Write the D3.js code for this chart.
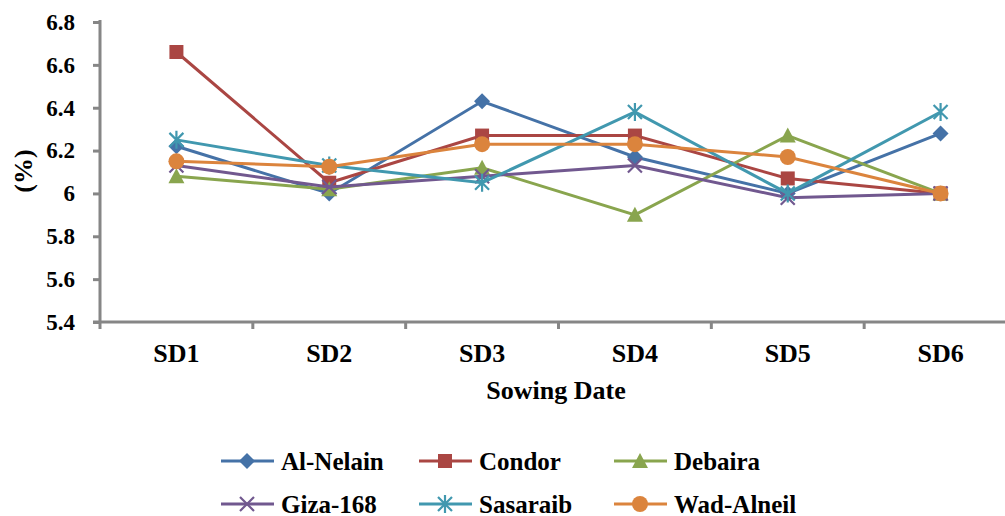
<!DOCTYPE html>
<html>
<head>
  <script src="https://d3js.org/d3.v7.min.js"></script>
</head>
<body style="margin:0">
  <svg id="chart" width="1005" height="516"></svg>
  <script>
    // data
    const dates = ['SD1', 'SD2', 'SD3', 'SD4', 'SD5', 'SD6'];
    const varieties = ['Al-Nelain', 'Condor', 'Debaira', 'Giza-168', 'Sasaraib', 'Wad-Alneil'];
    const alNelain = [6.22, 6.00, 6.43, 6.17, 6.00, 6.28];
    const condor = [6.66, 6.05, 6.27, 6.27, 6.07, 6.00];
    const debaira = [6.08, 6.02, 6.12, 5.90, 6.27, 6.00];
    const giza168 = [6.13, 6.03, 6.08, 6.13, 5.98, 6.00];
    const sasaraib = [6.25, 6.13, 6.05, 6.38, 6.00, 6.38];
    const wadAlneil = [6.15, 6.125, 6.23, 6.23, 6.17, 6.00];
    const yTicks = [5.4, 5.6, 5.8, 6, 6.2, 6.4, 6.6, 6.8];

    const seriesValues = [alNelain, condor, debaira, giza168, sasaraib, wadAlneil];
    const colors = ['#4572A7', '#AA4643', '#89A54E', '#71588F', '#4198AF', '#DB843D'];
    const symbols = ['diamond', 'square', 'triangle', 'x', 'star', 'circle'];
    const font = 'Liberation Serif';

    const svg = d3.select('svg#chart');
    const margins = { top: 22, left: 100 };
    const plotRight = 1017, plotBottom = 322;

    const x = d3.scaleBand().domain(dates).range([margins.left, plotRight]);
    const y = d3.scaleLinear().domain([5.4, 6.8]).range([plotBottom, margins.top]);
    const axisColor = '#868686';

    // y axis
    const yAxis = svg.append('g')
      .attr('transform', `translate(${margins.left},0)`)
      .call(d3.axisLeft(y).tickValues(yTicks).tickSize(7).tickPadding(18)
        .tickFormat(d => d === 6 ? '6' : d3.format('.1f')(d)));
    yAxis.select('.domain').attr('stroke', axisColor).attr('stroke-width', 3)
      .attr('d', `M0,${margins.top - 2}V${plotBottom}`);
    yAxis.selectAll('.tick line').attr('stroke', axisColor).attr('stroke-width', 3);
    yAxis.selectAll('.tick text')
      .attr('font-family', font).attr('font-weight', 'bold').attr('font-size', 23)
      .attr('fill', '#000');

    // x axis
    const xAxis = svg.append('g')
      .attr('transform', `translate(0,${plotBottom})`)
      .call(d3.axisBottom(x).tickSize(0).tickPadding(22));
    xAxis.select('.domain').attr('stroke', axisColor).attr('stroke-width', 3)
      .attr('d', `M${margins.left - 7},0H${plotRight}`);
    xAxis.selectAll('.tick text')
      .attr('font-family', font).attr('font-weight', 'bold').attr('font-size', 26)
      .attr('fill', '#000');
    xAxis.selectAll('.sep').data(dates.concat(['end']))
      .enter().append('line')
      .attr('x1', (d, i) => margins.left + i * x.bandwidth())
      .attr('x2', (d, i) => margins.left + i * x.bandwidth())
      .attr('y1', 0).attr('y2', 7)
      .attr('stroke', axisColor).attr('stroke-width', 3);

    svg.append('text')
      .attr('x', 556).attr('y', 399)
      .attr('text-anchor', 'middle')
      .attr('font-family', font).attr('font-weight', 'bold').attr('font-size', 26)
      .text('Sowing Date');

    svg.append('text')
      .attr('transform', 'translate(32,171) rotate(-90)')
      .attr('text-anchor', 'middle')
      .attr('font-family', font).attr('font-weight', 'bold').attr('font-size', 26)
      .text('(%)');

    function drawMarker(g, kind, color, cx, cy) {
      if (kind === 'diamond') {
        g.append('path').attr('d', `M${cx},${cy - 8}L${cx + 8},${cy}L${cx},${cy + 8}L${cx - 8},${cy}Z`).attr('fill', color);
      } else if (kind === 'square') {
        g.append('rect').attr('x', cx - 7).attr('y', cy - 7).attr('width', 14).attr('height', 14).attr('fill', color);
      } else if (kind === 'triangle') {
        g.append('path').attr('d', `M${cx},${cy - 8}L${cx + 8},${cy + 7}L${cx - 8},${cy + 7}Z`).attr('fill', color);
      } else if (kind === 'x') {
        g.append('path').attr('d', `M${cx - 7},${cy - 7}L${cx + 7},${cy + 7}M${cx + 7},${cy - 7}L${cx - 7},${cy + 7}`)
          .attr('stroke', color).attr('stroke-width', 2.2);
      } else if (kind === 'star') {
        g.append('path').attr('d', `M${cx - 7},${cy - 7}L${cx + 7},${cy + 7}M${cx + 7},${cy - 7}L${cx - 7},${cy + 7}M${cx},${cy - 9}V${cy + 9}`)
          .attr('stroke', color).attr('stroke-width', 2.2);
      } else {
        g.append('circle').attr('cx', cx).attr('cy', cy).attr('r', 8).attr('fill', color);
      }
    }

    const line = d3.line()
      .x((d, i) => x(dates[i]) + x.bandwidth() / 2)
      .y(d => y(d));

    seriesValues.forEach((vals, s) => {
      const g = svg.append('g');
      g.append('path').datum(vals)
        .attr('d', line)
        .attr('fill', 'none')
        .attr('stroke', colors[s])
        .attr('stroke-width', 3);
      vals.forEach((v, i) => {
        drawMarker(g, symbols[s], colors[s], x(dates[i]) + x.bandwidth() / 2, y(v));
      });
    });

    // legend
    const legCols = [221, 419, 614];
    const legRows = [461, 504];
    varieties.forEach((name, i) => {
      const lx = legCols[i % 3], ly = legRows[Math.floor(i / 3)];
      const g = svg.append('g');
      g.append('line').attr('x1', lx).attr('x2', lx + 53)
        .attr('y1', ly).attr('y2', ly)
        .attr('stroke', colors[i]).attr('stroke-width', 3);
      drawMarker(g, symbols[i], colors[i], lx + 26, ly);
      g.append('text').attr('x', lx + 60).attr('y', ly + 8.5)
        .attr('font-family', font).attr('font-weight', 'bold').attr('font-size', 25)
        .text(name);
    });
  </script>
</body>
</html>
